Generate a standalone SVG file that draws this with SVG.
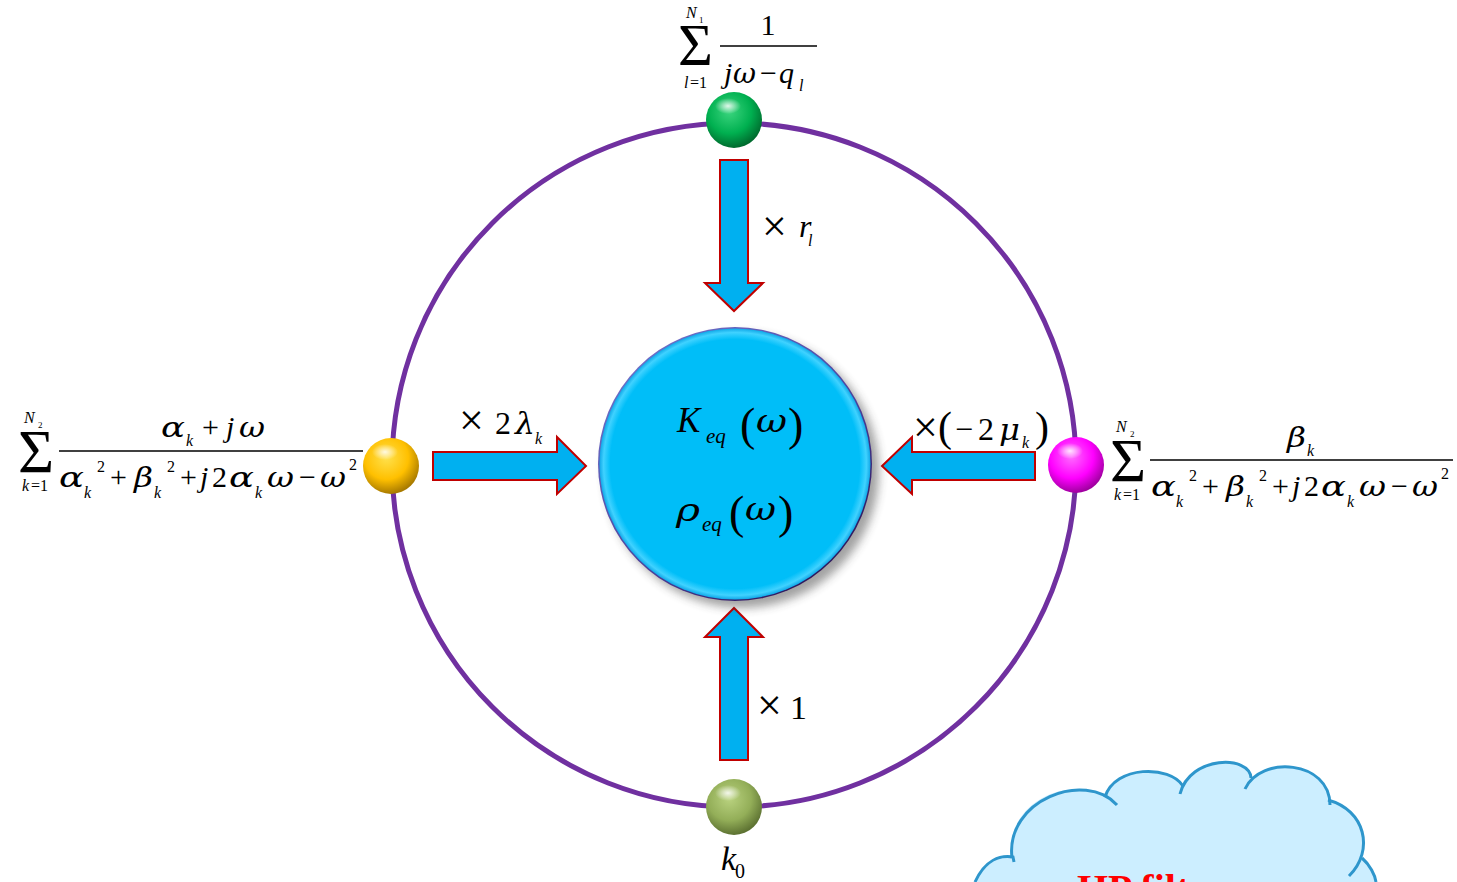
<svg xmlns="http://www.w3.org/2000/svg" width="1457" height="882" viewBox="0 0 1457 882">
<defs>
<style>
text{font-family:"Liberation Serif","Times New Roman",serif;fill:#000}
.i{font-style:italic}
.u{font-style:normal}
.g{font-family:"DejaVu Serif","Liberation Serif",serif;font-style:italic}
.m{font-size:30px}
.gm{font-size:27px}
.s{font-size:16px}
.arrow{fill:#00B0F0;stroke:#C00000;stroke-width:2;stroke-linejoin:miter}
.fl{stroke:#000;stroke-width:1.5}
.cl{fill:none;stroke:#2E96CC;stroke-width:3;stroke-linecap:butt}
</style>
<radialGradient id="gGreen" cx="0.42" cy="0.35" r="0.65">
<stop offset="0" stop-color="#3BD57E"/><stop offset="0.6" stop-color="#00B050"/><stop offset="1" stop-color="#006B2E"/>
</radialGradient>
<radialGradient id="gYellow" cx="0.42" cy="0.35" r="0.65">
<stop offset="0" stop-color="#FFE14D"/><stop offset="0.6" stop-color="#FFC000"/><stop offset="1" stop-color="#A87A00"/>
</radialGradient>
<radialGradient id="gMag" cx="0.42" cy="0.35" r="0.65">
<stop offset="0" stop-color="#FF6BFF"/><stop offset="0.6" stop-color="#FF00FF"/><stop offset="1" stop-color="#A000A0"/>
</radialGradient>
<radialGradient id="gOlive" cx="0.42" cy="0.35" r="0.65">
<stop offset="0" stop-color="#B9D27F"/><stop offset="0.6" stop-color="#93AE58"/><stop offset="1" stop-color="#5D7232"/>
</radialGradient>
<radialGradient id="gHi" cx="0.5" cy="0.5" r="0.5">
<stop offset="0" stop-color="#fff" stop-opacity="0.85"/><stop offset="1" stop-color="#fff" stop-opacity="0"/>
</radialGradient>
<radialGradient id="gCenter" cx="0.5" cy="0.5" r="0.5">
<stop offset="0" stop-color="#00BEF8"/><stop offset="0.92" stop-color="#00BEF8"/><stop offset="0.97" stop-color="#40D2FF"/><stop offset="1" stop-color="#10A8E8"/>
</radialGradient>
<linearGradient id="gRim" x1="0.15" y1="0.1" x2="0.85" y2="0.95">
<stop offset="0" stop-color="#6E6EC8"/><stop offset="0.6" stop-color="#4A3C98"/><stop offset="1" stop-color="#2A1050"/>
</linearGradient>
<filter id="shadow" x="-20%" y="-20%" width="150%" height="150%">
<feGaussianBlur stdDeviation="5"/>
</filter>
</defs>

<g id="ring">
<circle cx="734" cy="465" r="342" fill="none" stroke="#7030A0" stroke-width="5"/>
</g>

<g id="connectors">
<g id="arrow-top">
<polygon class="arrow" points="720,160 748,160 748,283 763,283 734,311 705,283 720,283"/>
<text x="762" y="241" style="font-size:44px">×</text>
<text class="i" x="799" y="237" style="font-size:32px">r<tspan x="808" y="246" style="font-size:16px">l</tspan></text>
</g>
<g id="arrow-bottom">
<polygon class="arrow" points="720,760 748,760 748,637 763,637 734,608 705,637 720,637"/>
<text x="757" y="720" style="font-size:44px">×</text>
<text x="790" y="719" style="font-size:34px">1</text>
</g>
<g id="arrow-left">
<polygon class="arrow" points="433,452 557,452 557,437 586,466 557,494 557,480 433,480"/>
<text x="459" y="435" style="font-size:44px">×</text>
<text x="495" y="434" style="font-size:32px">2</text>
<text class="g" x="515" y="434" style="font-size:30px" textLength="20" lengthAdjust="spacingAndGlyphs">λ</text>
<text class="i s" x="535" y="444">k</text>
</g>
<g id="arrow-right">
<polygon class="arrow" points="1035,452 912,452 912,437 882,466 912,494 912,480 1035,480"/>
<text x="913" y="442" style="font-size:44px">×</text>
<text x="938" y="441" style="font-size:42px">(</text>
<text x="955" y="440" style="font-size:32px">−</text>
<text x="978" y="440" style="font-size:32px">2</text>
<text class="g" x="999" y="440" style="font-size:29px" textLength="21" lengthAdjust="spacingAndGlyphs">μ</text>
<text class="i s" x="1022" y="448">k</text>
<text x="1035" y="441" style="font-size:42px">)</text>
</g>
</g>

<g id="node-center">
<circle cx="742" cy="471" r="137" fill="#333" opacity="0.45" filter="url(#shadow)"/>
<circle cx="735" cy="464" r="137" fill="url(#gRim)"/>
<circle cx="735" cy="464" r="135.5" fill="url(#gCenter)"/>
<text class="i" x="677" y="432" style="font-size:35px">K<tspan x="706" y="443" style="font-size:21px">eq</tspan></text>
<text x="740" y="440" style="font-size:46px">(</text>
<text class="g" x="756" y="432" style="font-size:32px" textLength="31" lengthAdjust="spacingAndGlyphs">ω</text>
<text x="788" y="440" style="font-size:46px">)</text>
<text class="g" x="676" y="521" style="font-size:32px" textLength="24" lengthAdjust="spacingAndGlyphs">ρ</text>
<text class="i" x="702" y="531" style="font-size:21px">eq</text>
<text x="729" y="528" style="font-size:46px">(</text>
<text class="g" x="745" y="520" style="font-size:32px" textLength="31" lengthAdjust="spacingAndGlyphs">ω</text>
<text x="778" y="528" style="font-size:46px">)</text>
</g>

<g id="node-top">
<circle cx="734" cy="120" r="28" fill="url(#gGreen)"/>
<ellipse cx="728" cy="106" rx="13" ry="8" fill="url(#gHi)"/>
<text x="678" y="65" style="font-size:60px">Σ</text>
<text class="i s" x="686" y="18">N<tspan class="u" x="699" y="23" style="font-size:9px">1</tspan></text>
<text class="i s" x="684" y="88">l<tspan class="u" x="690">=1</tspan></text>
<text class="m" x="768" y="35" text-anchor="middle">1</text>
<line class="fl" x1="720" y1="46" x2="817" y2="46"/>
<text class="i m" x="724" y="83">j</text>
<text class="g gm" x="733" y="83" textLength="23" lengthAdjust="spacingAndGlyphs">ω</text>
<text class="m" x="760" y="83">−</text>
<text class="i m" x="779" y="83">q<tspan x="799" y="91" style="font-size:16px">l</tspan></text>
</g>

<g id="node-left">
<circle cx="391" cy="466" r="28" fill="url(#gYellow)"/>
<ellipse cx="385" cy="452" rx="13" ry="8" fill="url(#gHi)"/>
<text x="18" y="472" style="font-size:62px">Σ</text>
<text class="i s" x="24" y="423">N<tspan class="u" x="38" y="428" style="font-size:9px">2</tspan></text>
<text class="i s" x="22" y="491">k<tspan class="u" x="31">=1</tspan></text>
<text class="g gm" x="161" y="437" textLength="24" lengthAdjust="spacingAndGlyphs">α</text>
<text class="i s" x="186" y="446">k</text>
<text class="m" x="202" y="437">+</text>
<text class="i m" x="226" y="437">j</text>
<text class="g gm" x="239" y="437" textLength="26" lengthAdjust="spacingAndGlyphs">ω</text>
<line class="fl" x1="59" y1="451" x2="363" y2="451"/>
<text class="g gm" x="59" y="487" textLength="25" lengthAdjust="spacingAndGlyphs">α</text>
<text class="i s" x="84" y="498">k</text>
<text class="s" x="97" y="472">2</text>
<text class="m" x="110" y="487">+</text>
<text class="g gm" x="134" y="487" textLength="19" lengthAdjust="spacingAndGlyphs">β</text>
<text class="i s" x="154" y="498">k</text>
<text class="s" x="167" y="472">2</text>
<text class="m" x="180" y="487">+</text>
<text class="i m" x="200" y="487">j</text>
<text class="m" x="212" y="487">2</text>
<text class="g gm" x="229" y="487" textLength="25" lengthAdjust="spacingAndGlyphs">α</text>
<text class="i s" x="255" y="498">k</text>
<text class="g gm" x="267" y="487" textLength="27" lengthAdjust="spacingAndGlyphs">ω</text>
<text class="m" x="299" y="487">−</text>
<text class="g gm" x="320" y="487" textLength="26" lengthAdjust="spacingAndGlyphs">ω</text>
<text class="s" x="349" y="470">2</text>
</g>

<g id="node-right">
<circle cx="1076" cy="465" r="28" fill="url(#gMag)"/>
<ellipse cx="1070" cy="451" rx="13" ry="8" fill="url(#gHi)"/>
<text x="1110" y="481" style="font-size:62px">Σ</text>
<text class="i s" x="1116" y="432">N<tspan class="u" x="1130" y="437" style="font-size:9px">2</tspan></text>
<text class="i s" x="1114" y="500">k<tspan class="u" x="1123">=1</tspan></text>
<text class="g gm" x="1287" y="447" textLength="19" lengthAdjust="spacingAndGlyphs">β</text>
<text class="i s" x="1307" y="456">k</text>
<line class="fl" x1="1150" y1="460" x2="1453" y2="460"/>
<text class="g gm" x="1151" y="496" textLength="25" lengthAdjust="spacingAndGlyphs">α</text>
<text class="i s" x="1176" y="507">k</text>
<text class="s" x="1189" y="481">2</text>
<text class="m" x="1202" y="496">+</text>
<text class="g gm" x="1226" y="496" textLength="19" lengthAdjust="spacingAndGlyphs">β</text>
<text class="i s" x="1246" y="507">k</text>
<text class="s" x="1259" y="481">2</text>
<text class="m" x="1272" y="496">+</text>
<text class="i m" x="1292" y="496">j</text>
<text class="m" x="1304" y="496">2</text>
<text class="g gm" x="1321" y="496" textLength="25" lengthAdjust="spacingAndGlyphs">α</text>
<text class="i s" x="1347" y="507">k</text>
<text class="g gm" x="1359" y="496" textLength="27" lengthAdjust="spacingAndGlyphs">ω</text>
<text class="m" x="1391" y="496">−</text>
<text class="g gm" x="1412" y="496" textLength="26" lengthAdjust="spacingAndGlyphs">ω</text>
<text class="s" x="1441" y="479">2</text>
</g>

<g id="node-bottom">
<circle cx="734" cy="807" r="28" fill="url(#gOlive)"/>
<ellipse cx="728" cy="793" rx="13" ry="8" fill="url(#gHi)"/>
<text class="i" x="721" y="870" style="font-size:34px">k<tspan class="u" x="735" y="878" style="font-size:20px">0</tspan></text>
</g>

<g id="node-cloud">
<path fill="#CCEEFF" d="M975 882 C985 860 1000 855 1011 855 L1011 850 C1010 795 1085 770 1117 805 L1105 797 C1115 765 1170 765 1183 786 L1180 794 C1190 755 1250 755 1251 778 L1245 789 C1260 755 1330 760 1330 805 L1328 800 C1365 810 1375 850 1349 876 L1362 858 C1370 865 1375 875 1376 882 L1376 900 L975 900 Z"/>
<path class="cl" d="M975 882 C985 860 1000 855 1013 857 L1014 862"/>
<path class="cl" d="M1012 858 C1005 800 1085 770 1117 805"/>
<path class="cl" d="M1105 797 C1115 765 1170 765 1183 786"/>
<path class="cl" d="M1180 794 C1190 755 1250 755 1251 778"/>
<path class="cl" d="M1245 789 C1260 755 1330 760 1330 805"/>
<path class="cl" d="M1328 800 C1365 810 1375 850 1349 876"/>
<path class="cl" d="M1362 858 C1370 865 1375 875 1376 882"/>
<text x="1077" y="902" style="font-size:40px;font-weight:bold;fill:#FF0000">HP filter</text>
</g>
</svg>
